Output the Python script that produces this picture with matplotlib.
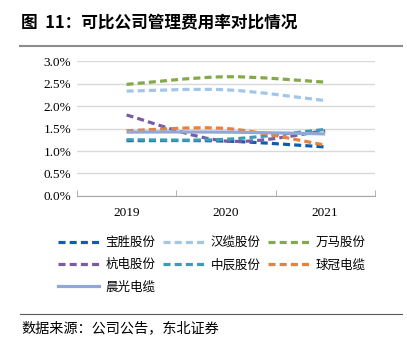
import matplotlib
matplotlib.use('Agg')
import matplotlib.pyplot as plt
import numpy as np
from matplotlib.path import Path
from matplotlib.patches import PathPatch
from matplotlib.lines import Line2D
from matplotlib.ticker import FuncFormatter

plt.rcParams['font.family'] = ['Noto Sans CJK SC', 'DejaVu Sans']

years = ['2019', '2020', '2021']
baosheng = [1.23, 1.22, 1.09]
hanlan = [2.33, 2.36, 2.12]
wanma = [2.48, 2.65, 2.53]
hangdian = [1.80, 1.22, 1.45]
zhongchen = [1.25, 1.26, 1.48]
qiuguan = [1.45, 1.50, 1.13]
chenguang = [1.42, 1.42, 1.38]

names = ['宝胜股份', '汉缆股份', '万马股份', '杭电股份', '中辰股份', '球冠电缆', '晨光电缆']
series = [baosheng, hanlan, wanma, hangdian, zhongchen, qiuguan, chenguang]
colors = ['#0F5DAE', '#A2C6EA', '#84A94A', '#7A5BA4', '#3B9DB5', '#E8813A', '#8FA8D6']
dash = (0, (2.2, 1.3))
styles = [dash, dash, dash, dash, dash, dash, '-']


def smooth_path(xs, ys):
	# catmull-rom through the points, as bezier segments
	pts = np.column_stack([xs, ys])
	n = len(pts)
	verts = [pts[0]]
	codes = [Path.MOVETO]
	for i in range(n - 1):
		p0 = pts[max(i - 1, 0)]
		p1 = pts[i]
		p2 = pts[i + 1]
		p3 = pts[min(i + 2, n - 1)]
		c1 = p1 + (p2 - p0) / 6.
		c2 = p2 - (p3 - p1) / 6.
		verts += [c1, c2, p2]
		codes += [Path.CURVE4] * 3
	return Path(verts, codes)


fig = plt.figure(figsize=(4.07, 3.51), dpi=100)
ax = fig.add_axes([0.189, 0.4416, 0.732, 0.3846])

x = np.arange(1, len(years) + 1)
handles = []
for vals, c, ls, nm in zip(series, colors, styles, names):
	v = np.array(vals) / 100.
	p = PathPatch(smooth_path(x, v), facecolor='none', edgecolor=c,
				  linewidth=2.3, linestyle=ls, capstyle='butt', zorder=3)
	ax.add_patch(p)
	handles.append(Line2D([], [], color=c, linewidth=2.3, linestyle=ls, label=nm))

ax.set_xlim(0.5, 3.5)
ax.set_ylim(0, 0.03)
ax.set_yticks(np.arange(0, 0.0301, 0.005))
ax.yaxis.set_major_formatter(FuncFormatter(lambda v, p: '%.1f%%' % (v * 100)))
ax.set_xticks(x)
ax.set_xticklabels(years)
ax.set_xticks([0.5, 1.5, 2.5, 3.5], minor=True)
ax.tick_params(axis='x', which='major', length=0, pad=8)
ax.tick_params(axis='x', which='minor', length=4, direction='in', color='#A6A6A6')
ax.tick_params(axis='y', length=0, pad=4)
for lab in ax.get_xticklabels() + ax.get_yticklabels():
	lab.set_fontfamily('Liberation Serif')
	lab.set_fontsize(9.5)
ax.grid(axis='y', color='#D9D9D9', linewidth=1)
ax.set_axisbelow(True)
for s in ['top', 'right', 'left']:
	ax.spines[s].set_visible(False)
ax.spines['bottom'].set_color('#A6A6A6')

fig.text(0.052, 0.935, '图  11：可比公司管理费用率对比情况', fontsize=12,
		 fontweight='bold', va='center', ha='left')
fig.add_artist(Line2D([0.049, 0.988], [0.868, 0.868], color='#8C8C8C', linewidth=1.5))
fig.add_artist(Line2D([0.049, 0.988], [0.105, 0.105], color='#595959', linewidth=0.8))
fig.text(0.052, 0.066, '数据来源：公司公告，东北证券', fontsize=10.2, va='center', ha='left')

# legend fills column by column, so reorder to read row by row
order = [0, 3, 6, 1, 4, 2, 5]
fig.legend(handles=[handles[i] for i in order], loc='upper left',
		   bbox_to_anchor=(0.13, 0.342), ncol=3, frameon=False, fontsize=9,
		   handlelength=3.3, columnspacing=0.6, handletextpad=0.5,
		   labelspacing=0.75, borderaxespad=0)

fig.savefig('out.png', dpi=100)
